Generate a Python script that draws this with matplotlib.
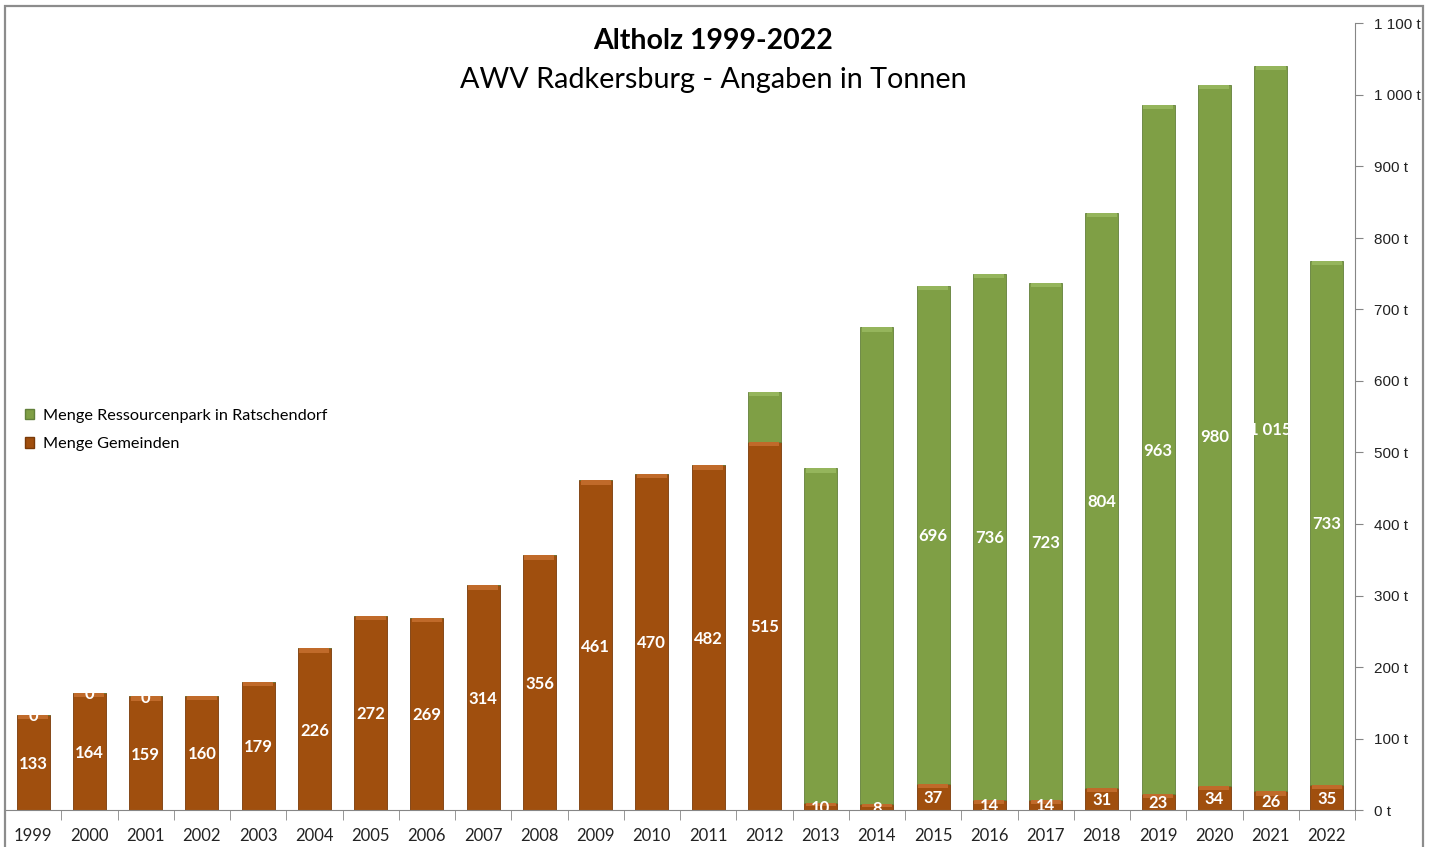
import matplotlib
matplotlib.use("Agg")
import matplotlib.pyplot as plt
import numpy as np
from matplotlib.patches import Rectangle, Patch
from matplotlib.ticker import FuncFormatter, MultipleLocator

years = [str(y) for y in range(1999, 2023)]
gemeinden = [133, 164, 159, 160, 179, 226, 272, 269, 314, 356, 461, 470, 482, 515,
             10, 8, 37, 14, 14, 31, 23, 34, 26, 35]
ressourcenpark = [0, 0, 0, np.nan, np.nan, np.nan, np.nan, np.nan, np.nan, np.nan, np.nan,
                  np.nan, np.nan, 70, 468, 667, 696, 736, 723, 804, 963, 980, 1015, 733]
hidden_green_labels = ["2012", "2013", "2014"]

title = "Altholz 1999-2022"
subtitle = "AWV Radkersburg - Angaben in Tonnen"
series_names = ["Menge Ressourcenpark in Ratschendorf", "Menge Gemeinden"]

orange = "#A04F0E"
orange_hi = "#C06A2A"
green = "#7F9F45"
green_hi = "#95B55C"

plt.rcParams['font.family'] = ['Lato', 'DejaVu Sans']

fig = plt.figure(figsize=(14.35, 8.47), dpi=100)
W, H = 1435, 847
ax = fig.add_axes([5 / W, (H - 810) / H, (1355 - 5) / W, (810 - 23.5) / H])

x = np.arange(len(years))
g = np.array(gemeinden, dtype=float)
r = np.array(ressourcenpark, dtype=float)
bw = 0.59

ax.bar(x, g, width=bw, color=orange, edgecolor="#7a3a08", linewidth=0.6, zorder=2)
rv = np.nan_to_num(r)
ax.bar(x, rv, width=bw, bottom=g, color=green, edgecolor="#62803a", linewidth=0.6, zorder=2)

# subtle bevel highlight at top of each segment
hl = 6
for xi, gi, ri in zip(x, g, r):
    h = min(hl, gi * 0.5)
    ax.add_patch(Rectangle((xi - bw / 2 + 0.03, gi - h), bw - 0.06, h, color=orange_hi,
                           zorder=3, linewidth=0))
    if not np.isnan(ri) and ri > 0:
        h2 = min(hl, ri * 0.5)
        ax.add_patch(Rectangle((xi - bw / 2 + 0.03, gi + ri - h2), bw - 0.06, h2,
                               color=green_hi, zorder=3, linewidth=0))

def fmt(v):
    return f"{int(round(v)):,}".replace(",", " ")

for xi, yr, gi, ri in zip(x, years, g, r):
    ax.text(xi, gi / 2 - 2, fmt(gi), ha="center", va="center", color="white",
            fontsize=12, fontweight="bold", zorder=5, clip_on=True)
    if not np.isnan(ri) and yr not in hidden_green_labels:
        ax.text(xi, gi + ri / 2 - 2, fmt(ri), ha="center", va="center", color="white",
                fontsize=12, fontweight="bold", zorder=5, clip_on=True)

ax.set_xlim(-0.5, len(years) - 0.5)
ax.set_ylim(0, 1100)

for s in ["top", "left"]:
    ax.spines[s].set_visible(False)
ax.spines["right"].set_color("#868686")
ax.spines["bottom"].set_color("#868686")
ax.yaxis.tick_right()
ax.yaxis.set_major_locator(MultipleLocator(100))
ax.yaxis.set_major_formatter(FuncFormatter(lambda v, p: f"{fmt(v)} t"))
ax.tick_params(axis="y", direction="out", length=6, color="#868686", labelsize=11,
               pad=8, labelcolor="#222222")
for lab in ax.get_yticklabels():
    lab.set_family(["Liberation Sans", "DejaVu Sans"])

ax.set_xticks(x)
ax.set_xticklabels(years, fontsize=12)
ax.tick_params(axis="x", length=0, pad=13, labelcolor="#222222")
ax.set_xticks(np.arange(-0.5, len(years) + 0.5, 1), minor=True)
ax.tick_params(axis="x", which="minor", direction="out", length=7, color="#868686")

handles = [Patch(facecolor=green, edgecolor="#62803a"), Patch(facecolor=orange, edgecolor="#7a3a08")]
fig.legend(handles, series_names, loc="upper left", bbox_to_anchor=(10 / W, 1 - 394 / H),
           frameon=False, fontsize=11.7, handlelength=0.6, handleheight=0.6,
           handletextpad=0.55, labelspacing=0.9)

fig.text(713 / W, 1 - 41 / H, title, ha="center", va="center", fontsize=20.5, fontweight="bold")
fig.text(713 / W, 1 - 80 / H, subtitle, ha="center", va="center", fontsize=20.7)

fig.add_artist(Rectangle((5 / W, -0.05), (1423 - 5) / W, 1.05 - 6 / H, transform=fig.transFigure,
                         fill=False, edgecolor="#8c8c8c", linewidth=1.6))

fig.savefig("out.png", dpi=100)
